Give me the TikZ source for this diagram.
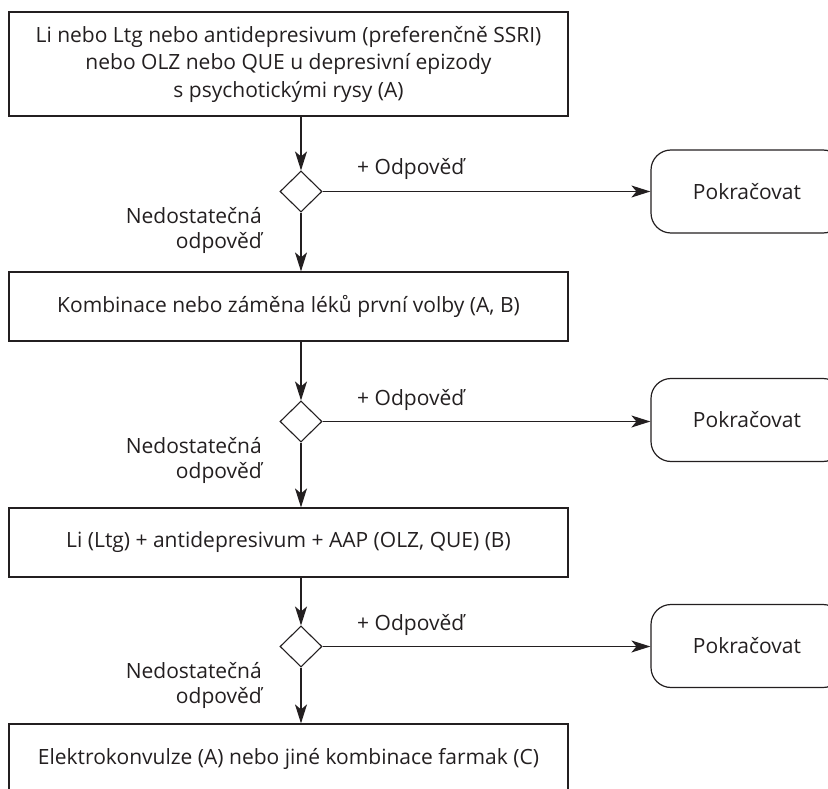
\documentclass[tikz,border=0pt]{standalone}
\usepackage{fontspec}
\setmainfont{Open Sans}
\usetikzlibrary{shapes.geometric,arrows.meta}
\definecolor{ink}{HTML}{231F20}
\begin{document}
\begin{tikzpicture}[x=1pt,y=-1pt,
  every node/.style={text=ink,font=\fontsize{21}{27.5}\selectfont,inner sep=0pt},
  stepbox/.style={draw=ink,line width=1.2pt,rectangle,minimum width=559pt,align=center},
  endbox/.style={draw=ink,line width=1.2pt,rectangle,rounded corners=20pt,minimum width=192pt,minimum height=83pt},
  choice/.style={draw=ink,line width=1.1pt,diamond,minimum width=42pt,minimum height=41pt},
  flow/.style={draw=ink,line width=1.2pt,-{Stealth[length=19pt,width=12pt,inset=5pt]}},
  lbl/.style={align=right,anchor=north east}]
\useasboundingbox (0,0) rectangle (828,789);
\clip (0,0) rectangle (828,789);

% main steps
\node[stepbox,minimum height=104pt] (b1) at (288.5,64)
  {Li nebo Ltg nebo antidepresivum (preferenčně SSRI)\\nebo OLZ nebo QUE u depresivní epizody\\s psychotickými rysy (A)};
\node[stepbox,minimum height=69pt] (b2) at (288.5,306.5)
  {Kombinace nebo záměna léků první volby (A, B)};
\node[stepbox,minimum height=69pt] (b3) at (288.5,542.5)
  {Li (Ltg) + antidepresivum + AAP (OLZ, QUE) (B)};
\node[stepbox,minimum height=69pt] (b4) at (288.5,758.5)
  {Elektrokonvulze (A) nebo jiné kombinace farmak (C)};

% decisions
\node[choice] (d1) at (301,191.5) {};
\node[choice] (d2) at (301,421.5) {};
\node[choice] (d3) at (301,646.5) {};

% exits
\node[endbox] (p1) at (747,191.5) {Pokračovat};
\node[endbox] (p2) at (747,420) {Pokračovat};
\node[endbox] (p3) at (747,646) {Pokračovat};

% connectors
\draw[flow] (b1.south -| d1) -- (d1.north);
\draw[flow] (d1.south) -- (b2.north -| d1);
\draw[flow] (d1.east) -- (d1.east -| p1.west);
\draw[flow] (b2.south -| d2) -- (d2.north);
\draw[flow] (d2.south) -- (b3.north -| d2);
\draw[flow] (d2.east) -- (d2.east -| p2.west);
\draw[flow] (b3.south -| d3) -- (d3.north);
\draw[flow] (d3.south) -- (b4.north -| d3);
\draw[flow] (d3.east) -- (d3.east -| p3.west);

% labels
\node[anchor=base west] (y1) at (357,175) {+ Odpověď};
\node[anchor=base west] (y2) at (357,405) {+ Odpověď};
\node[anchor=base west] (y3) at (357,630) {+ Odpověď};
\node[lbl] (n1) at (262,207) {Nedostatečná\\[-2.5pt]odpověď};
\node[lbl] (n2) at (262,437) {Nedostatečná\\[-2.5pt]odpověď};
\node[lbl] (n3) at (262,662) {Nedostatečná\\[-2.5pt]odpověď};
\end{tikzpicture}
\end{document}
